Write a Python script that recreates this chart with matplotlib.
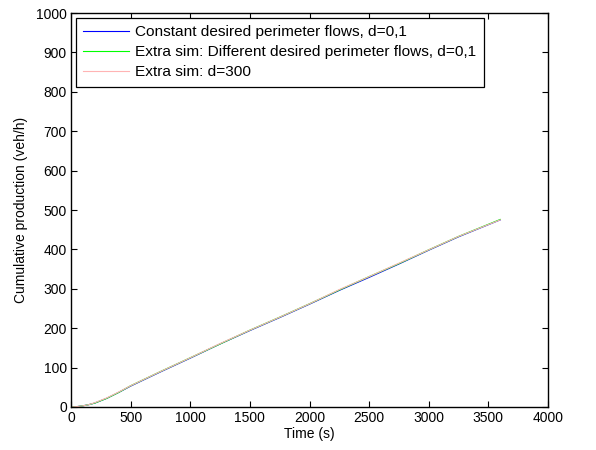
import matplotlib
matplotlib.use("Agg")
import matplotlib.pyplot as plt

plt.rcParams['font.family'] = ['Liberation Sans', 'DejaVu Sans']

time_s = [0, 50, 100, 150, 200, 300, 400, 500, 750, 1000, 1250, 1500, 1750,
          2000, 2250, 2500, 2750, 3000, 3250, 3600]
prod_constant = [0, 1, 3, 6, 10, 22, 37, 53, 89, 124, 160, 194, 227,
                 261, 296, 329, 363, 398, 432, 475]
prod_diff = [0, 1, 3, 6, 10, 22, 37, 54, 90, 125, 160, 195, 228,
             262, 297, 331, 364, 399, 433, 476]
prod_d300 = [0, 1, 3, 6, 11, 23, 38, 54, 90, 125, 161, 195, 228,
             262, 298, 331, 365, 399, 433, 475]

labels = ["Constant desired perimeter flows, d=0,1",
          "Extra sim: Different desired perimeter flows, d=0,1",
          "Extra sim: d=300"]
colors = ["#0000ff", "#00ff00", "#ffb4b4"]

fig = plt.figure(figsize=(5.96, 4.5), dpi=100)
ax = fig.add_axes([71 / 596, 43 / 450, 477 / 596, 394 / 450])

for y, lab, c in zip([prod_constant, prod_diff, prod_d300], labels, colors):
    ax.plot(time_s, y, color=c, lw=0.8, label=lab)

ax.set_xlim(0, 4000)
ax.set_ylim(0, 1000)
ax.set_xticks(range(0, 4001, 500))
ax.set_yticks(range(0, 1001, 100))
ax.tick_params(direction='in', top=True, right=True, length=4, width=0.8,
               labelsize=10, pad=3)
for s in ax.spines.values():
    s.set_linewidth(1.0)
ax.set_xlabel("Time (s)", fontsize=10, labelpad=1)
ax.set_ylabel("Cumulative production (veh/h)", fontsize=10, labelpad=6)

leg = ax.legend(loc='upper left', fontsize=11.1, frameon=True, fancybox=False,
                edgecolor='black', framealpha=1, borderaxespad=0.3,
                handlelength=2.95, labelspacing=0.38, borderpad=0.5,
                handletextpad=0.4)
leg.get_frame().set_linewidth(0.9)

fig.savefig("out.png", dpi=100)
